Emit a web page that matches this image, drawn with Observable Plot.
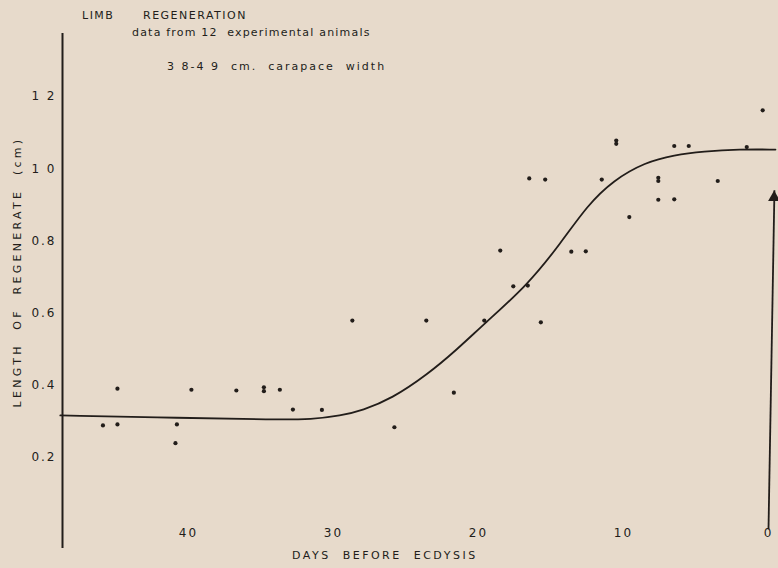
<!DOCTYPE html>
<html><head><meta charset="utf-8">
<script src="https://cdn.jsdelivr.net/npm/d3@7"></script>
<script src="https://cdn.jsdelivr.net/npm/@observablehq/plot@0.6"></script>
<style>
html,body{margin:0;padding:0;background:#e7dacb;}
#wrap{position:relative;width:778px;height:568px;overflow:hidden;font-family:"DejaVu Sans",sans-serif;color:#221d1a;}
.t{position:absolute;white-space:pre;line-height:1;}
#t1{left:82px;top:10px;font-size:11px;letter-spacing:1.5px;}
#t2{left:143px;top:10px;font-size:11px;letter-spacing:1.5px;}
#t3{left:132px;top:27px;font-size:11px;letter-spacing:1.2px;}
#t4{left:167px;top:61px;font-size:11px;letter-spacing:2px;}
#xl{left:292px;top:550px;font-size:11px;letter-spacing:2.5px;}
#yl{left:17px;top:272px;font-size:11px;letter-spacing:3.3px;transform:translate(-50%,-50%) rotate(-90deg);}
#chart{position:absolute;left:0;top:0;}
</style></head><body>
<div id="wrap">
  <div id="chart"></div>
  <div class="t" id="t1">LIMB</div>
  <div class="t" id="t2">REGENERATION</div>
  <div class="t" id="t3">data from 12  experimental animals</div>
  <div class="t" id="t4">3 8-4 9  cm.  carapace  width</div>
  <div class="t" id="xl">DAYS  BEFORE  ECDYSIS</div>
  <div class="t" id="yl">LENGTH  OF  REGENERATE  (cm)</div>
</div>
<script>
// Observed measurements: days before ecdysis and regenerate length (cm)
const days    = [45.9, 44.9, 44.9, 40.8, 40.9, 39.8, 36.7, 34.8, 34.8, 33.7, 32.8, 30.8, 25.8, 28.7, 23.6, 19.6, 15.7, 21.7, 17.6, 16.6, 18.5, 13.6, 12.6, 16.5, 15.4, 11.5, 10.5, 10.5, 9.6, 7.6, 7.6, 7.6, 6.5, 6.5, 5.5, 3.5, 1.5, 0.4];
const lengths = [0.288, 0.291, 0.390, 0.291, 0.239, 0.387, 0.385, 0.394, 0.383, 0.387, 0.332, 0.331, 0.283, 0.579, 0.579, 0.579, 0.574, 0.379, 0.674, 0.676, 0.773, 0.770, 0.771, 0.973, 0.970, 0.970, 1.078, 1.069, 0.866, 0.975, 0.966, 0.914, 0.915, 1.063, 1.063, 0.966, 1.060, 1.162];

// Hand-drawn fitted curve
const curveDays    = [48.84, 40.5, 34.0, 31.5, 29.5, 28.0, 26.0, 23.5, 21.5, 19.6, 16.6, 14.3, 12.5, 10.7, 8.5, 6.5, 4.5, 2.0, -0.48];
const curveLengths = [0.316, 0.309, 0.304, 0.305, 0.315, 0.330, 0.362, 0.430, 0.498, 0.570, 0.678, 0.795, 0.898, 0.968, 1.018, 1.038, 1.048, 1.054, 1.053];

// Ecdysis arrow (from day 0 upward)
const arrowFrom = [0, 0.0];
const arrowTo   = [-0.41, 0.94];
const arrowHead = [-0.39, 0.92];

// Axes
const xTicks = [40, 30, 20, 10, 0];
const xTickLabels = ["40", "30", "20", "10", "0"];
const yTicks = [0.2, 0.4, 0.6, 0.8, 1.0, 1.2];
const yTickLabels = ["0.2", "0.4", "0.6", "0.8", "1 0", "1 2"];
const xDomain = [48.69, -0.483];
const yDomain = [0.0189, 1.375];
const yAxisSpan = [-0.053, 1.375];

const ink = "#221d1a";
const pts = days.map((d, i) => ({d, v: lengths[i]}));
const curve = curveDays.map((d, i) => ({d, v: curveLengths[i]}));

const plot = Plot.plot({
  width: 778, height: 568,
  marginLeft: 62, marginRight: 3, marginTop: 33, marginBottom: 46,
  x: {domain: xDomain, axis: null},
  y: {domain: yDomain, axis: null},
  style: {background: "transparent", color: ink, fontFamily: "DejaVu Sans, sans-serif", fontSize: "12px", letterSpacing: "2px"},
  marks: [
    Plot.ruleX([xDomain[0]], {y1: yAxisSpan[0], y2: yAxisSpan[1], stroke: ink, strokeWidth: 2}),
    Plot.axisY(yTicks, {label: null, tickSize: 0, tickPadding: 6, tickFormat: d => yTickLabels[yTicks.indexOf(d)], fill: ink}),
    Plot.axisX(xTicks, {label: null, tickSize: 0, tickPadding: 6, tickFormat: d => xTickLabels[xTicks.indexOf(d)], fill: ink}),
    Plot.line(curve, {x: "d", y: "v", curve: "basis", stroke: ink, strokeWidth: 1.8}),
    Plot.dot(pts, {x: "d", y: "v", r: 2.1, fill: ink, stroke: "none"}),
    Plot.link([0], {x1: () => arrowFrom[0], y1: () => arrowFrom[1], x2: () => arrowTo[0], y2: () => arrowTo[1], stroke: ink, strokeWidth: 1.8}),
    Plot.dot([0], {x: () => arrowHead[0], y: () => arrowHead[1], symbol: "triangle", r: 4.5, fill: ink, stroke: "none"})
  ]
});
document.getElementById("chart").appendChild(plot);
</script>
</body></html>
